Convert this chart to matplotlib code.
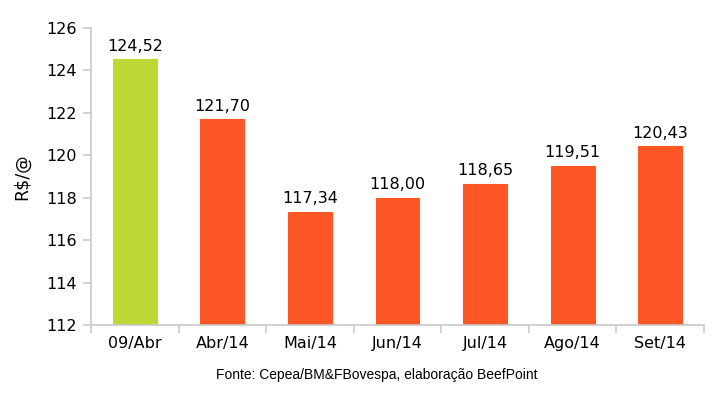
import numpy as np
import matplotlib.pyplot as plt

# Preço do boi gordo
categorias = ['09/Abr', 'Abr/14', 'Mai/14', 'Jun/14', 'Jul/14', 'Ago/14', 'Set/14']
valores = [124.52, 121.70, 117.34, 118.00, 118.65, 119.51, 120.43]
cores = ['#BDD735'] + ['#FF5626'] * 6

fig = plt.figure(figsize=(7.28, 3.93), dpi=100)
ax = fig.add_axes([0.125, 0.173, 0.842, 0.756])

x = np.arange(len(categorias))
bars = ax.bar(x, valores, width=0.5, color=cores, edgecolor=cores, linewidth=0.8, zorder=2)

for xi, v in zip(x, valores):
    ax.annotate(f'{v:.2f}'.replace('.', ','), (xi, v), xytext=(0, 4),
                textcoords='offset points', ha='center', va='bottom',
                fontsize=11.5, family='DejaVu Sans')

ax.set_ylim(112, 126)
ax.set_yticks(np.arange(112, 127, 2))
ax.set_xlim(-0.5, len(categorias) - 0.5)
ax.set_xticks(x)
ax.set_xticklabels(categorias)
ax.set_xticks(np.arange(-0.5, len(categorias)), minor=True)

for s in ['top', 'right']:
    ax.spines[s].set_visible(False)
for s in ['left', 'bottom']:
    ax.spines[s].set_color('#C8C8C8')
    ax.spines[s].set_linewidth(1.2)

ax.tick_params(axis='x', which='major', length=0, pad=8, labelsize=11.5)
ax.tick_params(axis='x', which='minor', length=6, width=1.2, color='#C8C8C8')
ax.tick_params(axis='y', length=6, width=1.2, color='#C8C8C8', labelsize=11.5, pad=4)

ax.set_ylabel('R$/@', fontsize=12.5, labelpad=11)

fig.text(0.518, 0.045, 'Fonte: Cepea/BM&FBovespa, elaboração BeefPoint',
         ha='center', va='center', fontsize=10, family='Liberation Sans')

fig.savefig('out.png', dpi=100)
